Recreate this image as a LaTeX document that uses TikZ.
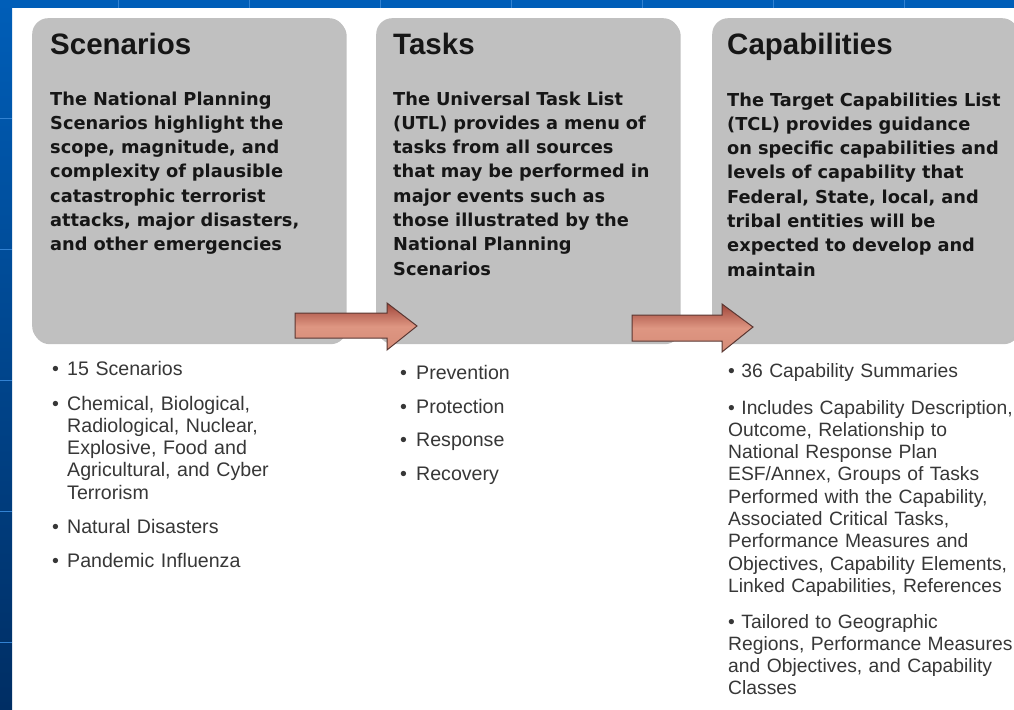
\documentclass[tikz,border=0pt]{standalone}
\usepackage{fontspec}
\usetikzlibrary{shadows}
\newfontfamily\boxfont{DejaVu Sans}
\newfontfamily\titlefont{Liberation Sans}
\newfontfamily\listfont{Liberation Sans}
\definecolor{slideblue}{RGB}{0,94,184}
\definecolor{slidenavy}{RGB}{0,46,100}
\definecolor{gridblue}{RGB}{50,130,210}
\definecolor{panelgray}{RGB}{192,192,192}
\definecolor{boxink}{RGB}{22,22,22}
\definecolor{listink}{RGB}{55,55,55}
\definecolor{arrowtop}{RGB}{160,70,58}
\definecolor{arrowmid}{RGB}{222,150,130}
\definecolor{arrowbot}{RGB}{214,140,120}
\definecolor{arrowline}{RGB}{90,55,50}
\begin{document}
\begin{tikzpicture}[x=1pt,y=-1pt,
  panel/.style={fill=panelgray, rounded corners=16pt, anchor=north west, inner sep=0pt,
    drop shadow={shadow xshift=1.5pt, shadow yshift=-2pt, opacity=.25, fill=black}},
  titletext/.style={font=\titlefont\bfseries\fontsize{29.5}{34}\selectfont, text=boxink, anchor=base west, inner sep=0pt},
  bodytext/.style={font=\boxfont\bfseries\fontsize{17.8}{24.3}\selectfont, text=boxink, anchor=base west, inner sep=0pt, text width=300pt, align=left},
  listtext/.style={font=\listfont\fontsize{19.6}{22.3}\selectfont, text=listink, anchor=base west, inner sep=0pt, text width=330pt, align=left},
  captext/.style={listtext, font=\listfont\fontsize{19.3}{22.3}\selectfont},
  blockarrow/.style={draw=arrowline, line width=1pt, line join=miter, top color=arrowtop, bottom color=arrowbot, middle color=arrowmid}
]
\useasboundingbox (0,0) rectangle (1014,709);
\clip (0,0) rectangle (1014,709);
\fill[white] (0,0) rectangle (1014,709);
% slide frame
\shade[top color=slideblue, bottom color=slidenavy] (0,0) rectangle (12,709);
\fill[slideblue] (0,0) rectangle (1014,8);
\foreach \yy in {118,249,380,511,642} \draw[gridblue, line width=1pt] (0,\yy) -- (12,\yy);
\foreach \xx in {118,249,380,511,642,773,904} \draw[gridblue, line width=1pt] (\xx,0) -- (\xx,8);

% panels
\node[panel, minimum width=313pt, minimum height=324pt] (scen) at (32,18) {};
\node[panel, minimum width=303pt, minimum height=324pt] (task) at (376,18) {};
\node[panel, minimum width=306pt, minimum height=324pt] (capa) at (712,18) {};

% titles
\node[titletext] (scenTitle) at (50,55) {Scenarios};
\node[titletext] (taskTitle) at (393,55) {Tasks};
\node[titletext] (capaTitle) at (727,55) {Capabilities};

% panel texts
\node[bodytext] (scenBody) at (50,105) {The National Planning\\Scenarios highlight the\\scope, magnitude, and\\complexity of plausible\\catastrophic terrorist\\attacks, major disasters,\\and other emergencies};
\node[bodytext] (taskBody) at (393,105) {The Universal Task List\\(UTL) provides a menu of\\tasks from all sources\\that may be performed in\\major events such as\\those illustrated by the\\National Planning\\Scenarios};
\node[bodytext] (capaBody) at (727,106) {The Target Capabilities List\\(TCL) provides guidance\\on specific capabilities and\\levels of capability that\\Federal, State, local, and\\tribal entities will be\\expected to develop and\\maintain};

% arrows
\coordinate (a1t) at (417,326);
\draw[blockarrow] (295,313) -- (387,313) -- (387,303) -- (a1t) -- (387,350) -- (387,338) -- (295,338) -- cycle;
\coordinate (a2t) at (753,327);
\draw[blockarrow] (632,315) -- (722,315) -- (722,304) -- (a2t) -- (722,352) -- (722,341) -- (632,341) -- cycle;

% lists
\node[listtext] (s1) at (67,375) {\hspace*{-15pt}\makebox[15pt][l]{•}15 Scenarios};
\node[listtext] (s2) at (67,410) {\hspace*{-15pt}\makebox[15pt][l]{•}Chemical, Biological,\\Radiological, Nuclear,\\Explosive, Food and\\Agricultural, and Cyber\\Terrorism};
\node[listtext] (s3) at (67,533) {\hspace*{-15pt}\makebox[15pt][l]{•}Natural Disasters};
\node[listtext] (s4) at (67,567) {\hspace*{-15pt}\makebox[15pt][l]{•}Pandemic Influenza};

\node[listtext] (t1) at (416,379) {\hspace*{-16pt}\makebox[16pt][l]{•}Prevention};
\node[listtext] (t2) at (416,413) {\hspace*{-16pt}\makebox[16pt][l]{•}Protection};
\node[listtext] (t3) at (416,446.5) {\hspace*{-16pt}\makebox[16pt][l]{•}Response};
\node[listtext] (t4) at (416,480) {\hspace*{-16pt}\makebox[16pt][l]{•}Recovery};

\node[captext] (c1) at (728,377) {• 36 Capability Summaries};
\node[captext] (c2) at (728,414) {• Includes Capability Description,\\Outcome, Relationship to\\National Response Plan\\ESF/Annex, Groups of Tasks\\Performed with the Capability,\\Associated Critical Tasks,\\Performance Measures and\\Objectives, Capability Elements,\\Linked Capabilities, References};
\node[captext] (c3) at (728,628) {• Tailored to Geographic\\Regions, Performance Measures\\and Objectives, and Capability\\Classes};
\end{tikzpicture}
\end{document}
